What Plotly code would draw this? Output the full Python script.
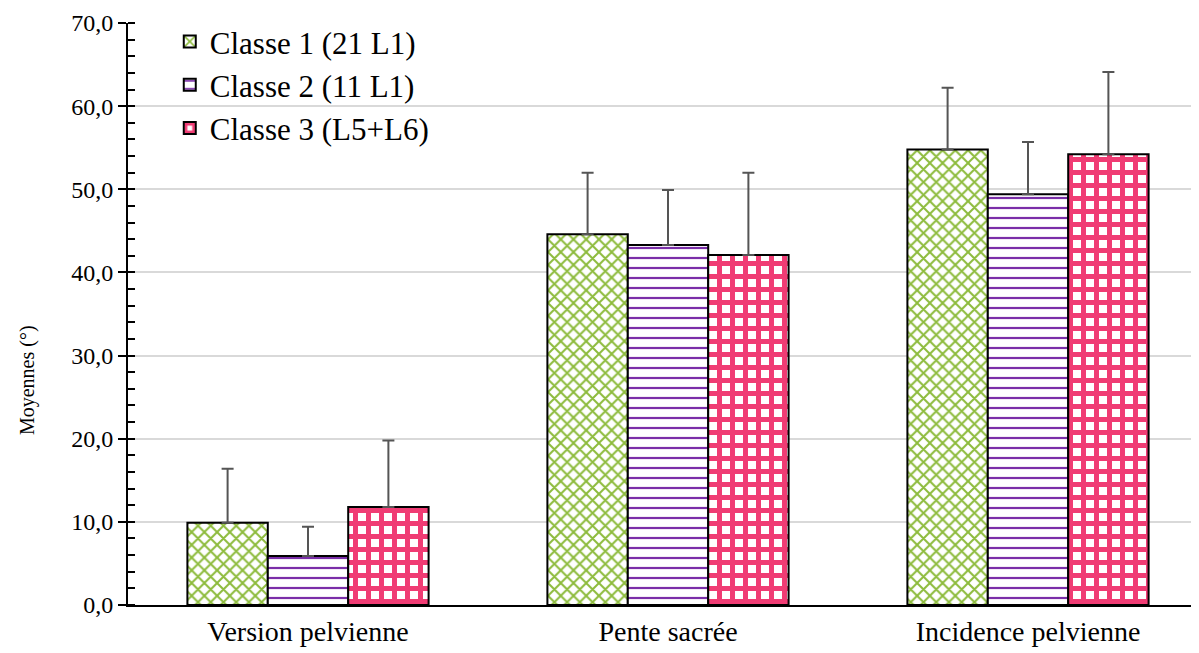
import plotly.graph_objects as go

categories = ["Version pelvienne", "Pente sacrée", "Incidence pelvienne"]
series_names = ["Classe 1 (21 L1)", "Classe 2 (11 L1)", "Classe 3 (L5+L6)"]
class1_means = [9.9, 44.6, 54.8]
class1_sd = [6.5, 7.4, 7.4]
class2_means = [5.9, 43.3, 49.4]
class2_sd = [3.5, 6.6, 6.3]
class3_means = [11.8, 42.1, 54.2]
class3_sd = [8.0, 9.9, 9.9]

means = [class1_means, class2_means, class3_means]
sds = [class1_sd, class2_sd, class3_sd]
patterns = [
    dict(shape="x", fgcolor="#8dbb3c", bgcolor="white", size=9, solidity=0.4, fillmode="replace"),
    dict(shape="-", fgcolor="#7a2ea8", bgcolor="white", size=10, solidity=0.22, fillmode="replace"),
    dict(shape="+", fgcolor="#f03c74", bgcolor="white", size=13, solidity=0.62, fillmode="replace"),
]

serif = "Liberation Serif"
fig = go.Figure()
for name, m, s, p in zip(series_names, means, sds, patterns):
    fig.add_trace(go.Bar(
        name=name, x=categories, y=m,
        marker=dict(color="white", pattern=p, line=dict(color="black", width=2)),
        error_y=dict(type="data", array=s, symmetric=False, arrayminus=[0]*len(s),
                     color="#555555", thickness=2, width=6),
    ))

fig.update_layout(
    width=1191, height=645,
    margin=dict(l=120, r=0, t=15, b=48),
    plot_bgcolor="white", paper_bgcolor="white",
    barmode="group", bargap=0.33, bargroupgap=0,
    separators=", ",
    font=dict(family=serif, color="black"),
    showlegend=True,
    legend=dict(x=0.039, y=1.014, xanchor="left", yanchor="top",
                font=dict(family=serif, size=31, color="black"),
                bgcolor="rgba(0,0,0,0)", tracegroupgap=0, itemwidth=30),
)
fig.update_xaxes(
    range=[-0.5, 2.475], showline=True, linecolor="black", linewidth=2,
    ticks="", tickfont=dict(family=serif, size=28, color="black"),
    showgrid=False, automargin=False,
)
fig.update_yaxes(
    range=[0, 70], dtick=10, tickformat=".1f",
    showline=True, linecolor="black", linewidth=2,
    ticks="outside", ticklen=8, tickwidth=2, tickcolor="black",
    tickfont=dict(family=serif, size=24, color="black"),
    showgrid=True, gridcolor="#d9d9d9", gridwidth=1.5,
    zeroline=False, automargin=False,
    minor=dict(dtick=2, ticks="inside", ticklen=7, tickwidth=2, tickcolor="black", showgrid=False),
)
fig.add_annotation(
    text="Moyennes (°)", textangle=-90, xref="paper", yref="paper",
    x=-0.094, y=0.387, xanchor="center", yanchor="middle", showarrow=False,
    font=dict(family=serif, size=20, color="black"),
)
fig.write_html("out.html")
